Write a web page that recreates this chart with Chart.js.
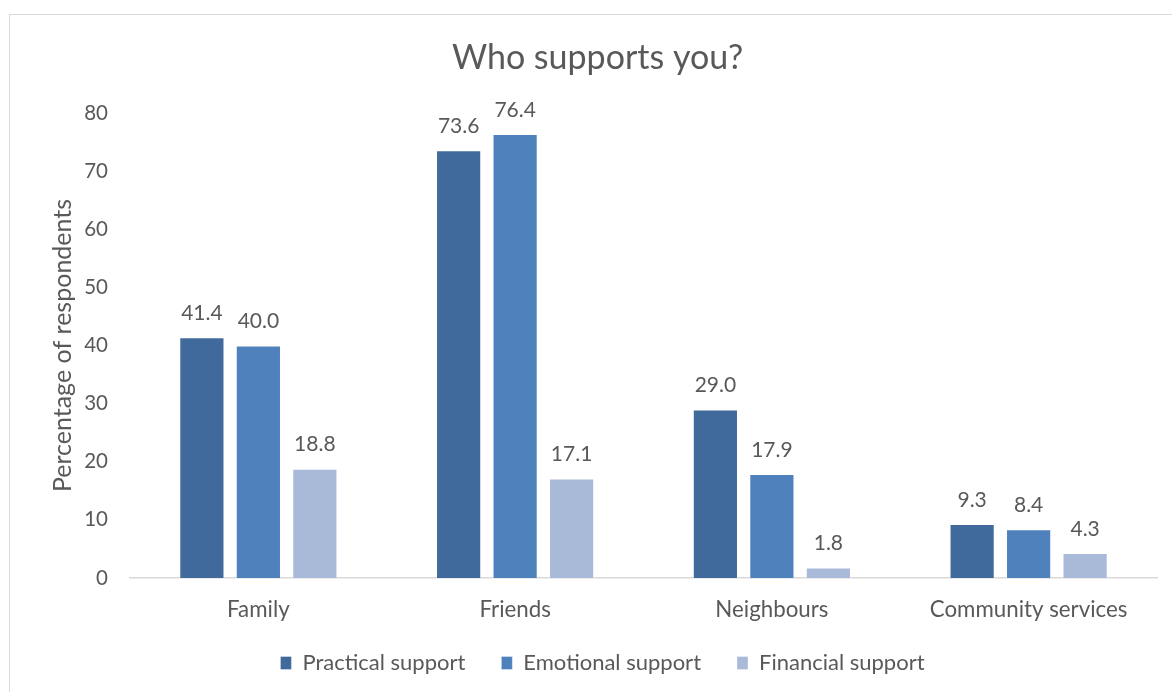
<!DOCTYPE html>
<html>
<head>
<meta charset="utf-8">
<title>Who supports you?</title>
<script src="https://cdn.jsdelivr.net/npm/chart.js@4/dist/chart.umd.min.js"></script>
<style>
  html, body { margin: 0; padding: 0; background: #ffffff; }
  body { width: 1172px; height: 692px; position: relative; overflow: hidden; }
  .frame {
    position: absolute; left: 9px; top: 14px; width: 1400px; height: 900px;
    border-left: 1px solid #d9d9d9; border-top: 1px solid #d9d9d9;
  }
  .wrap { position: absolute; left: 0; top: 0; width: 1172px; height: 692px; }
</style>
</head>
<body>
<div class="frame"></div>
<div class="wrap"><canvas id="chart" width="1172" height="692"></canvas></div>
<script>
// Who gives support, share of respondents (%)
const categories = ['Family', 'Friends', 'Neighbours', 'Community services'];
const seriesNames = ['Practical support', 'Emotional support', 'Financial support'];
const practical = [41.4, 73.6, 29.0, 9.3];
const emotional = [40.0, 76.4, 17.9, 8.4];
const financial = [18.8, 17.1, 1.8, 4.3];
const yTicks = [0, 10, 20, 30, 40, 50, 60, 70, 80];

const colours = ['#3F6A9B', '#4F81BD', '#A9B9D8'];
const textColour = '#595959';
const fontFamily = 'Lato, "Open Sans", sans-serif';

const legendPadding = 36;
const legendFont = 22;
const legendTextCentre = 663;
const legendShift = 24;
const titleShift = 19;

// Value labels above each bar
const valueLabels = {
  id: 'valueLabels',
  afterDatasetsDraw(chart) {
    const ctx = chart.ctx;
    ctx.save();
    ctx.font = '21px ' + fontFamily;
    ctx.fillStyle = textColour;
    ctx.textAlign = 'center';
    ctx.textBaseline = 'middle';
    chart.data.datasets.forEach((ds, i) => {
      chart.getDatasetMeta(i).data.forEach((bar, j) => {
        ctx.fillText(ds.data[j].toFixed(1), bar.x, bar.y - 24);
      });
    });
    ctx.restore();
  }
};

// Centre the title and legend on the frame, legend row just under the category labels
const boxPlacement = {
  id: 'boxPlacement',
  afterLayout(chart) {
    const lg = chart.legend;
    if (lg) {
      const h = lg.height;
      lg.top = legendTextCentre - legendPadding - legendFont / 2;
      lg.bottom = lg.top + h;
      lg.left += legendShift;
      lg.right += legendShift;
    }
    const tb = chart.titleBlock;
    if (tb) {
      tb.left += titleShift;
      tb.right += titleShift;
    }
  }
};

new Chart(document.getElementById('chart'), {
  type: 'bar',
  data: {
    labels: categories,
    datasets: [practical, emotional, financial].map((d, i) => ({
      label: seriesNames[i],
      data: d,
      backgroundColor: colours[i],
      borderColor: 'rgba(255,255,255,0.35)',
      borderWidth: 1,
      categoryPercentage: 0.66,
      barPercentage: 0.8
    }))
  },
  options: {
    responsive: false,
    animation: false,
    layout: { padding: { left: 0, right: 15, top: 0, bottom: 0 } },
    plugins: {
      title: {
        display: true,
        text: 'Who supports you?',
        color: textColour,
        font: { family: fontFamily, size: 34, weight: 'normal', lineHeight: 1.2 },
        padding: { top: 37.5, bottom: 34.7 }
      },
      legend: {
        display: true,
        position: 'bottom',
        labels: {
          color: textColour,
          font: { family: fontFamily, size: legendFont },
          boxWidth: 11,
          boxHeight: 13,
          padding: legendPadding
        }
      },
      tooltip: { enabled: false }
    },
    scales: {
      x: {
        grid: { display: false },
        border: { display: true, color: '#d9d9d9', width: 1.5 },
        ticks: {
          color: textColour,
          font: { family: fontFamily, size: 22.3 },
          padding: 10.5,
          maxRotation: 0
        },
        afterFit(scale) { scale.height = 46; }
      },
      y: {
        min: 0,
        max: 80,
        grid: { display: false },
        border: { display: false },
        afterBuildTicks(scale) { scale.ticks = yTicks.map(v => ({ value: v })); },
        ticks: {
          color: textColour,
          font: { family: fontFamily, size: 20.5 },
          padding: 14
        },
        title: {
          display: true,
          text: 'Percentage of respondents',
          color: textColour,
          font: { family: fontFamily, size: 25, lineHeight: 1.2 },
          padding: { top: 48, bottom: 0 }
        },
        afterFit(scale) { scale.width = 130; }
      }
    }
  },
  plugins: [valueLabels, boxPlacement]
});
</script>
</body>
</html>
